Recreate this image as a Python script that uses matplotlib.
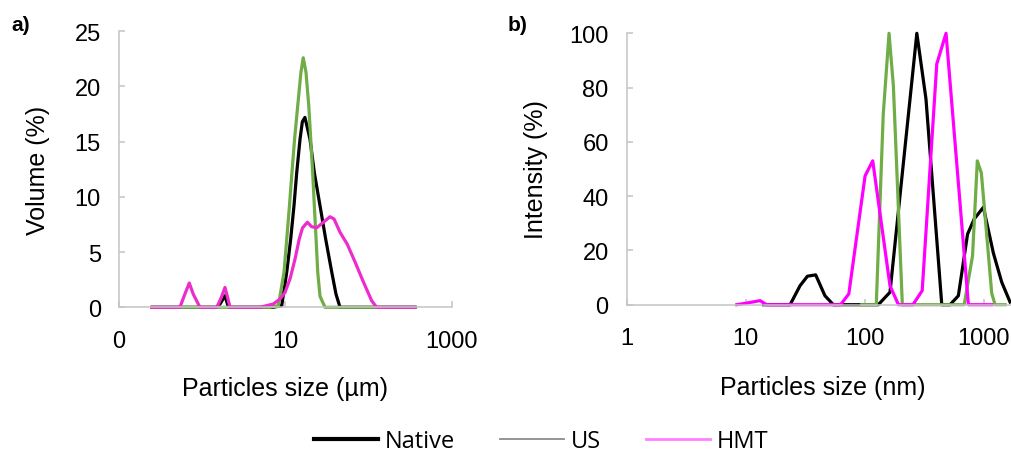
import matplotlib.pyplot as plt
from matplotlib.lines import Line2D

plt.rcParams['font.family'] = ['Liberation Sans', 'DejaVu Sans']

# a) laser diffraction, volume distribution (size in um)
vol_native_x = [0.25, 1.48, 1.64, 1.88, 2.07, 7.1, 9.04, 10.4, 11.6, 12.7, 13.7, 15.0, 16.0, 17.2,
                19.8, 22.3, 26.1, 30.5, 36.1, 40.6, 45.4, 362]
vol_native_y = [0, 0, 0.3, 1.05, 0, 0, 0.15, 3.2, 6.2, 9.2, 12.2, 15.2, 16.8, 17.2,
                15.2, 12.2, 9.2, 6.2, 3.2, 1.2, 0, 0]

vol_us_x = [0.25, 6.5, 8.24, 9.64, 10.4, 11.2, 12.0, 12.9, 14.1, 15.4, 16.4, 17.7, 19.1, 20.2,
            21.3, 22.3, 23.4, 24.5, 26.1, 30.0, 362]
vol_us_y = [0, 0, 0.15, 3.2, 6.2, 9.2, 12.2, 15.2, 18.3, 21.3, 22.6, 21.3, 18.3, 15.2,
            12.2, 9.2, 6.2, 3.2, 1.0, 0, 0]

vol_hmt_x = [0.25, 0.54, 0.62, 0.70, 0.78, 0.94, 1.50, 1.70, 1.88, 2.02, 2.16, 4.95, 7.16, 8.63,
             9.91, 11.4, 13.1, 14.7, 16.1, 18.4, 20.7, 23.8, 28.6, 34.4, 38.5, 45.4, 55.6,
             68.9, 86.7, 109, 125, 362]
vol_hmt_y = [0, 0, 1.2, 2.2, 1.2, 0, 0, 0.9, 1.8, 0.9, 0, 0, 0.3, 0.75,
             1.35, 2.6, 4.4, 6.2, 7.2, 7.7, 7.3, 7.2, 7.7, 8.2, 8.0, 6.8, 5.7,
             4.1, 2.3, 0.6, 0, 0]

# b) DLS, intensity distribution (size in nm)
int_native_x = [14.1, 23.6, 28.6, 33.0, 38.7, 46.3, 54.5, 130, 163, 274, 327, 444, 521, 612,
                731, 832, 993, 1205, 1416, 1663]
int_native_y = [0, 0, 7, 10.5, 11, 3.3, 0, 0, 4.6, 100, 75.8, 0, 0, 3.3,
                26, 31.6, 35.9, 19, 8.3, 1.0]

int_us_x = [94.4, 125, 143, 160, 174, 207, 685, 805, 883, 955, 1167, 1245, 1510]
int_us_y = [0, 0, 70, 100, 80.7, 0, 0, 18, 53, 48.5, 4.2, 0, 0]

int_hmt_x = [8.4, 10.2, 13.2, 15.0, 62.7, 73.5, 100.7, 116.7, 163, 192, 254, 304, 403, 482,
             743, 1167]
int_hmt_y = [0, 0.6, 1.5, 0, 0, 4, 47.5, 53, 7, 0, 0, 5.2, 88.7, 100,
             0, 0]

green = '#70ad47'
spine_gray = '#c4c4c4'
tick_fs = 17
label_fs = 18

fig = plt.figure(figsize=(10.11, 4.56), dpi=100)
ax1 = fig.add_axes([0.1177, 0.3239, 0.3291, 0.6053])
ax2 = fig.add_axes([0.6199, 0.3296, 0.3801, 0.5952])

lw = 2.3
ax1.plot(vol_native_x, vol_native_y, color='black', lw=lw, solid_joinstyle='round')
ax1.plot(vol_us_x, vol_us_y, color=green, lw=lw, solid_joinstyle='round')
ax1.plot(vol_hmt_x, vol_hmt_y, color='#ee2ccc', lw=lw, solid_joinstyle='round')

ax2.plot(int_native_x, int_native_y, color='black', lw=lw)
ax2.plot(int_us_x, int_us_y, color=green, lw=lw)
ax2.plot(int_hmt_x, int_hmt_y, color='#ff00ff', lw=lw)

for ax in (ax1, ax2):
    ax.set_xscale('log')
    ax.minorticks_off()
    for side in ('top', 'right'):
        ax.spines[side].set_visible(False)
    for side in ('left', 'bottom'):
        ax.spines[side].set_color(spine_gray)
        ax.spines[side].set_linewidth(1.1)
    ax.tick_params(axis='both', direction='in', length=4.5, width=1.1, color=spine_gray,
                   labelsize=tick_fs)
    ax.tick_params(axis='x', pad=16)
    ax.tick_params(axis='y', pad=13)

ax1.set_xlim(0.1, 1000)
ax1.set_ylim(0, 25)
ax1.set_xticks([0.1, 10, 1000])
ax1.set_xticklabels(['0', '10', '1000'])
ax1.set_yticks([0, 5, 10, 15, 20, 25])
ax1.set_xlabel('Particles size (µm)', fontsize=label_fs)
ax1.set_ylabel('Volume (%)', fontsize=label_fs)
ax1.xaxis.set_label_coords(0.5, -0.25)
ax1.yaxis.set_label_coords(-0.207, 0.5)

ax2.set_xlim(1, 10 ** 3.229)
ax2.set_ylim(0, 100)
ax2.set_xticks([1, 10, 100, 1000])
ax2.set_xticklabels(['1', '10', '100', '1000'])
ax2.set_yticks([0, 20, 40, 60, 80, 100])
ax2.set_xlabel('Particles size (nm)', fontsize=label_fs)
ax2.set_ylabel('Intensity (%)', fontsize=label_fs)
ax2.xaxis.set_label_coords(0.509, -0.26)
ax2.yaxis.set_label_coords(-0.205, 0.5)

for ax in (ax1, ax2):
    for line in ax.get_lines():
        line.set_clip_on(False)

fig.text(0.011, 0.943, 'a)', fontsize=15, fontweight='bold', va='center')
fig.text(0.502, 0.943, 'b)', fontsize=15, fontweight='bold', va='center')

handles = [Line2D([], [], color='black', lw=3),
           Line2D([], [], color='#8c8c8c', lw=1.3),
           Line2D([], [], color='#ff80ff', lw=2)]
fig.legend(handles, ['Native', 'US', 'HMT'], loc='center', bbox_to_anchor=(0.5356, 0.03),
           ncol=3, frameon=False, handlelength=2.7, handletextpad=0.3, columnspacing=1.9,
           prop={'family': 'Open Sans', 'size': 17})

fig.savefig('out.png', dpi=100)
